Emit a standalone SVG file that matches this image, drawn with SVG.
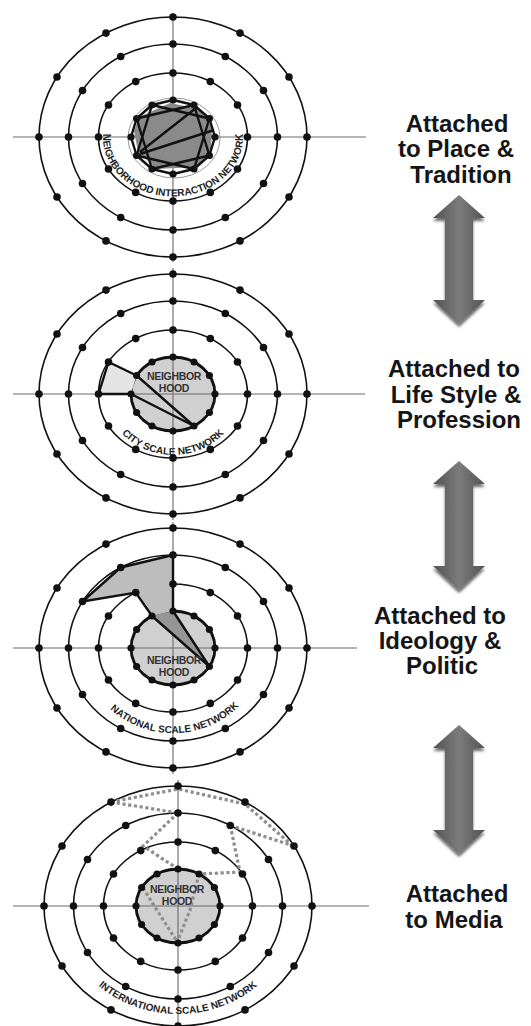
<svg xmlns="http://www.w3.org/2000/svg" xmlns:xlink="http://www.w3.org/1999/xlink" width="531" height="1026" viewBox="0 0 531 1026">
<style>
.ring{fill:none;stroke:#111;stroke-width:1.6}
.dot{fill:#111}
.axis{stroke:#6a6a6a;stroke-width:1.1;fill:none}
.nb{fill:#d0d0d0;stroke:#111;stroke-width:2.8}
.net{fill:none;stroke:#111;stroke-width:2.4;stroke-linejoin:round}
.dash{fill:none;stroke:#8e8e8e;stroke-width:3.2;stroke-dasharray:3.2 2.6}
.arc{font-family:"Liberation Sans",Arial,sans-serif;font-weight:bold;font-size:10px;fill:#222}
.nbt{font-family:"Liberation Sans",Arial,sans-serif;font-weight:bold;font-size:10.5px;fill:#333;text-anchor:middle;letter-spacing:-0.3px}
.lbl{font-family:"Liberation Sans",Arial,sans-serif;font-weight:bold;font-size:24px;fill:#151515;text-anchor:middle}
.arrow{fill:url(#ag);filter:url(#sh)}
</style>
<defs>
<linearGradient id="ag" x1="0" y1="0" x2="1" y2="0">
<stop offset="0" stop-color="#525252"/>
<stop offset="0.5" stop-color="#7c7c7c"/>
<stop offset="1" stop-color="#525252"/>
</linearGradient>
<filter id="sh" x="-30%" y="-10%" width="160%" height="125%">
<feGaussianBlur in="SourceAlpha" stdDeviation="1.8"/>
<feOffset dy="2.5"/>
<feComponentTransfer><feFuncA type="linear" slope="0.6"/></feComponentTransfer>
<feMerge><feMergeNode/><feMergeNode in="SourceGraphic"/></feMerge>
</filter>
<g id="rings">
<ellipse rx="134" ry="120" class="ring"/>
<ellipse rx="104.5" ry="93" class="ring"/>
<ellipse rx="74.5" ry="64" class="ring"/>
</g>
<g id="ringdots" class="dot">
<circle cx="0" cy="-120" r="3.8"/><circle cx="67" cy="-103.9" r="3.8"/><circle cx="116" cy="-60" r="3.8"/><circle cx="134" cy="0" r="3.8"/><circle cx="116" cy="60" r="3.8"/><circle cx="67" cy="103.9" r="3.8"/><circle cx="0" cy="120" r="3.8"/><circle cx="-67" cy="103.9" r="3.8"/><circle cx="-116" cy="60" r="3.8"/><circle cx="-134" cy="0" r="3.8"/><circle cx="-116" cy="-60" r="3.8"/><circle cx="-67" cy="-103.9" r="3.8"/>
<circle cx="0" cy="-93" r="3.8"/><circle cx="52.3" cy="-80.5" r="3.8"/><circle cx="90.5" cy="-46.5" r="3.8"/><circle cx="104.5" cy="0" r="3.8"/><circle cx="90.5" cy="46.5" r="3.8"/><circle cx="52.3" cy="80.5" r="3.8"/><circle cx="0" cy="93" r="3.8"/><circle cx="-52.3" cy="80.5" r="3.8"/><circle cx="-90.5" cy="46.5" r="3.8"/><circle cx="-104.5" cy="0" r="3.8"/><circle cx="-90.5" cy="-46.5" r="3.8"/><circle cx="-52.3" cy="-80.5" r="3.8"/>
<circle cx="0" cy="-64" r="3.8"/><circle cx="37.3" cy="-55.4" r="3.8"/><circle cx="64.5" cy="-32" r="3.8"/><circle cx="74.5" cy="0" r="3.8"/><circle cx="64.5" cy="32" r="3.8"/><circle cx="37.3" cy="55.4" r="3.8"/><circle cx="0" cy="64" r="3.8"/><circle cx="-37.3" cy="55.4" r="3.8"/><circle cx="-64.5" cy="32" r="3.8"/><circle cx="-74.5" cy="0" r="3.8"/><circle cx="-64.5" cy="-32" r="3.8"/><circle cx="-37.3" cy="-55.4" r="3.8"/>
</g>
<g id="ndots" class="dot">
<circle cx="0" cy="-37" r="3.6"/><circle cx="21" cy="-32" r="3.6"/><circle cx="36.4" cy="-18.5" r="3.6"/><circle cx="42" cy="0" r="3.6"/><circle cx="36.4" cy="18.5" r="3.6"/><circle cx="21" cy="32" r="3.6"/><circle cx="0" cy="37" r="3.6"/><circle cx="-21" cy="32" r="3.6"/><circle cx="-36.4" cy="18.5" r="3.6"/><circle cx="-42" cy="0" r="3.6"/><circle cx="-36.4" cy="-18.5" r="3.6"/><circle cx="-21" cy="-32" r="3.6"/>
</g>
<path id="arrowShape" d="M0,0 L26,23 L14,23 L14,105 L26,105 L0,129 L-26,105 L-14,105 L-14,23 L-26,23 Z"/>
<path id="tp1" d="M103.3,131.9 A70,59 0 1 0 242.7,131.9"/>
<path id="tp2" d="M115,424.5 A67,61 0 0 0 231,424.5"/>
<path id="tp3" d="M88.4,677.1 A90,85 0 0 0 257.6,677.1"/>
<path id="tp4" d="M75.8,960 A118,108 0 0 0 280.2,960"/>
</defs>

<rect width="531" height="1026" fill="#fff"/>

<!-- Diagram 1 -->
<g id="diagram1">
<path class="axis" d="M13,137 H366 M173,13 V262"/>
<use xlink:href="#rings" transform="translate(173,137)"/>
<ellipse cx="174" cy="138" rx="46" ry="40" fill="none" stroke="#999" stroke-width="1"/>
<polygon points="139,117 170,103 199,109 212,127 211,151 196,167 157,169 138,152 134,131" fill="#8a8a8a"/>
<polygon class="net" points="173,100 194,105 209.4,118.5 215,137 209.4,155.5 194,169 173,174 152,169 136.6,155.5 131,137 136.6,118.5 152,105"/>
<polygon class="net" points="136.6,118.5 194,105 209.4,155.5 152,169"/>
<polygon class="net" points="152,105 209.4,118.5 194,169 136.6,155.5"/>
<path class="net" d="M140,152 L196,108 M140,154 L214,130"/>
<use xlink:href="#ringdots" transform="translate(173,137)"/>
<use xlink:href="#ndots" transform="translate(173,137)"/>
<text class="arc"><textPath xlink:href="#tp1" startOffset="50%" text-anchor="middle">NEIGHBORHOOD INTERACTION NETWORK</textPath></text>
</g>

<!-- Diagram 2 -->
<g id="diagram2">
<ellipse class="nb" cx="173" cy="394" rx="42" ry="37"/>
<path class="axis" d="M13,394 H365 M173,268 V520"/>
<use xlink:href="#rings" transform="translate(173,394)"/>
<polygon points="108.5,362 136.6,375.5 131,394 98.5,394" fill="#e4e4e4"/>
<polygon class="net" points="108.5,362 136.6,375.5 194,426 131,394 98.5,394"/>
<use xlink:href="#ringdots" transform="translate(173,394)"/>
<use xlink:href="#ndots" transform="translate(173,394)"/>
<text class="nbt" x="174" y="380">NEIGHBOR<tspan x="174" dy="12">HOOD</tspan></text>
<text class="arc"><textPath xlink:href="#tp2" startOffset="50%" text-anchor="middle">CITY SCALE NETWORK</textPath></text>
</g>

<!-- Diagram 3 -->
<g id="diagram3">
<ellipse class="nb" cx="173" cy="648" rx="42" ry="37"/>
<path class="axis" d="M13,648 H357 M173,522 V774"/>
<use xlink:href="#rings" transform="translate(173,648)"/>
<polygon points="173,555 120.7,567.5 82.5,601.5 135.7,592.6 152,616 173,611" fill="#bdbdbd"/>
<polygon points="152,616 173,611 209.4,666.5" fill="#959595"/>
<polyline class="net" points="173,555 120.7,567.5 82.5,601.5 135.7,592.6 152,616 209.4,666.5"/>
<path class="net" d="M173,555 V611 L209.4,666.5"/>
<use xlink:href="#ringdots" transform="translate(173,648)"/>
<use xlink:href="#ndots" transform="translate(173,648)"/>
<text class="nbt" x="174" y="664">NEIGHBOR<tspan x="174" dy="12">HOOD</tspan></text>
<text class="arc"><textPath xlink:href="#tp3" startOffset="51%" text-anchor="middle">NATIONAL SCALE NETWORK</textPath></text>
</g>

<!-- Diagram 4 -->
<g id="diagram4">
<ellipse class="nb" cx="178" cy="906" rx="42" ry="37"/>
<path class="axis" d="M13,906 H369 M178,780 V1026"/>
<use xlink:href="#rings" transform="translate(178,906)"/>
<g id="media-links">
<polyline class="dash" points="111,802 178,789 245,804 294,847"/>
<polyline class="dash" points="111,802 178,813"/>
<polyline class="dash" points="178,813 143,846 178,869"/>
<polyline class="dash" points="230.3,825.5 294,846"/>
<polyline class="dash" points="230.3,825.5 240,872 199,874"/>
<polyline class="dash" points="199,874 190,910 178,940"/>
<polyline class="dash" points="143,888 160,915 176,940"/>
</g>
<use xlink:href="#ringdots" transform="translate(178,906)"/>
<use xlink:href="#ndots" transform="translate(178,906)"/>
<text class="nbt" x="177" y="893">NEIGHBOR<tspan x="177" dy="12">HOOD</tspan></text>
<text class="arc"><textPath xlink:href="#tp4" startOffset="50%" text-anchor="middle">INTERNATIONAL SCALE NETWORK</textPath></text>
</g>

<!-- Arrows -->
<g id="connectors">
<use xlink:href="#arrowShape" class="arrow" transform="translate(459,195)"/>
<use xlink:href="#arrowShape" class="arrow" transform="translate(459,461)"/>
<use xlink:href="#arrowShape" class="arrow" transform="translate(459,725)"/>
</g>

<!-- Labels -->
<g id="label1">
<text class="lbl" x="457" y="132">Attached<tspan x="456" dy="25">to Place &amp;</tspan><tspan x="461" dy="26">Tradition</tspan></text>
</g>
<g id="label2">
<text class="lbl" x="454" y="377">Attached to<tspan x="456" dy="26">Life Style &amp;</tspan><tspan x="459" dy="25">Profession</tspan></text>
</g>
<g id="label3">
<text class="lbl" x="440" y="624">Attached to<tspan x="440" dy="25">Ideology &amp;</tspan><tspan x="442" dy="25">Politic</tspan></text>
</g>
<g id="label4">
<text class="lbl" x="457" y="902">Attached<tspan x="454" dy="26">to Media</tspan></text>
</g>
</svg>
